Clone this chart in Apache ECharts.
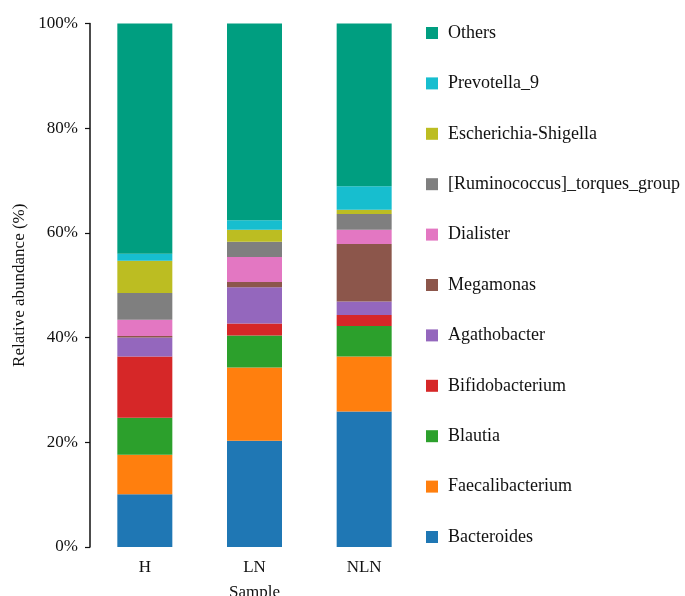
<!DOCTYPE html>
<html>
<head>
<meta charset="utf-8">
<script src="https://cdn.jsdelivr.net/npm/echarts@6/dist/echarts.min.js"></script>
<style>
  html, body { margin: 0; padding: 0; background: #fff; }
  #chart { width: 685px; height: 596px; }
</style>
</head>
<body>
<div id="chart"></div>
<script>
// Samples on the x axis
const samples = ['H', 'LN', 'NLN'];

// Genus names, bottom of the stack first
const genera = [
  'Bacteroides', 'Faecalibacterium', 'Blautia', 'Bifidobacterium', 'Agathobacter',
  'Megamonas', 'Dialister', '[Ruminococcus]_torques_group', 'Escherichia-Shigella',
  'Prevotella_9', 'Others'
];

// Relative abundance (%) per sample: H, LN, NLN
const bacteroides      = [10.1, 20.3, 25.9];
const faecalibacterium = [7.5, 14.0, 10.5];
const blautia          = [7.1, 6.1, 5.8];
const bifidobacterium  = [11.7, 2.3, 2.1];
const agathobacter     = [3.6, 6.9, 2.6];
const megamonas        = [0.3, 1.0, 11.0];
const dialister        = [3.1, 4.8, 2.7];
const ruminococcus     = [5.1, 2.9, 3.0];
const escherichia      = [6.2, 2.3, 0.8];
const prevotella9      = [1.3, 1.8, 4.5];
const others           = [44.0, 37.6, 31.1];

const seriesValues = [
  bacteroides, faecalibacterium, blautia, bifidobacterium, agathobacter,
  megamonas, dialister, ruminococcus, escherichia, prevotella9, others
];

// Y axis ticks
const yTicks = [0, 20, 40, 60, 80, 100];

const colors = [
  '#1f77b4', '#ff7f0e', '#2ca02c', '#d62728', '#9467bd',
  '#8c564b', '#e377c2', '#7f7f7f', '#bcbd22', '#17becf', '#009e80'
];

const font = 'Liberation Serif, Times New Roman, serif';

const chart = echarts.init(document.getElementById('chart'), null, { renderer: 'canvas' });

chart.setOption({
  animation: false,
  color: colors,
  grid: {
    left: 90, top: 23.5, width: 329, bottom: 49,
    containLabel: false, outerBoundsMode: 'none'
  },
  legend: {
    orient: 'vertical',
    left: 426,
    top: 24,
    padding: 0,
    icon: 'rect',
    itemWidth: 12,
    itemHeight: 12,
    itemGap: 32.4,
    data: genera.slice().reverse(),
    textStyle: { fontFamily: font, fontSize: 18, color: '#111', padding: [0, 0, 0, 5] }
  },
  xAxis: {
    type: 'category',
    data: samples,
    name: 'Sample',
    nameLocation: 'middle',
    nameGap: 37,
    nameTextStyle: { fontFamily: font, fontSize: 17, color: '#111' },
    axisLine: { show: false },
    axisTick: { show: false },
    axisLabel: { fontFamily: font, fontSize: 17, color: '#111', margin: 12 }
  },
  yAxis: {
    type: 'value',
    min: yTicks[0],
    max: yTicks[yTicks.length - 1],
    interval: yTicks[1] - yTicks[0],
    name: 'Relative abundance (%)',
    nameLocation: 'middle',
    nameGap: 62,
    nameTextStyle: { fontFamily: font, fontSize: 17, color: '#111' },
    axisLine: { show: true, lineStyle: { color: '#111', width: 1.5 } },
    axisTick: { show: true, length: 5, lineStyle: { color: '#111', width: 1.2 } },
    splitLine: { show: false },
    axisLabel: { fontFamily: font, fontSize: 17, color: '#111', margin: 12, formatter: '{value}%' }
  },
  series: genera.map((name, i) => ({
    name: name,
    type: 'bar',
    stack: 'total',
    barWidth: 55,
    data: seriesValues[i],
    itemStyle: { color: colors[i] }
  }))
});
</script>
</body>
</html>
